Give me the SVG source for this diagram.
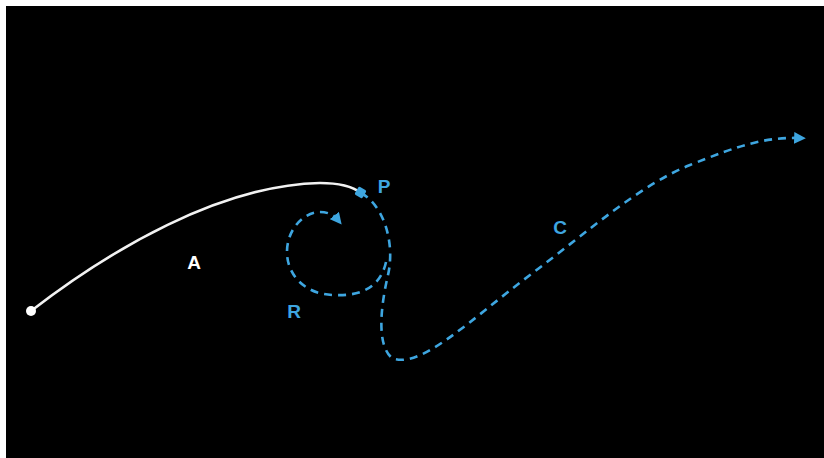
<svg xmlns="http://www.w3.org/2000/svg" width="824" height="458" viewBox="0 0 824 458">
<defs>
<style>
.lbl{font-family:"Liberation Sans",Arial,sans-serif;font-weight:bold;font-size:19px;text-anchor:middle}
.blue{fill:#3ea6e0}
.dash{fill:none;stroke:#3ea6e0;stroke-width:2.6;stroke-dasharray:8 6}
</style>
<marker id="arr" viewBox="0 0 10 10" refX="5" refY="5" markerWidth="4.5" markerHeight="4.5" orient="auto" markerUnits="strokeWidth">
<path d="M0,0 L10,5 L0,10 Z" fill="#3ea6e0"/>
</marker>
</defs>
<rect x="0" y="0" width="824" height="458" fill="#ffffff"/>
<rect x="6" y="6" width="818" height="452" fill="#000000"/>
<g id="connectors">
<path id="curveA" d="M31,311 C110,250 220,185 320,183 C340,183 352,186 361,193" fill="none" stroke="#f2f2f2" stroke-width="2.6"/>
<path id="curveC" class="dash" d="M361,193 C385,206 395,245 388,275 C381,305 376,345 392,358 C420,370 470,320 530,275 S640,185 690,165 S765,137 800,138" marker-end="url(#arr)"/>
<path id="curveR" class="dash" d="M386,262 C380,290 357,296 335,295 C305,295 287,275 287,252 C287,228 305,212 320,212 C328,212 334,215 338,220" marker-end="url(#arr)"/>
</g>
<g id="start">
<circle cx="31" cy="311" r="5" fill="#ffffff"/>
</g>
<g id="P">
<rect x="356" y="188" width="9" height="9" rx="1.5" class="blue" transform="rotate(30 360.5 192.5)"/>
<text class="lbl blue" x="384" y="193">P</text>
</g>
<g id="A">
<text class="lbl" x="194" y="269" fill="#ffffff">A</text>
</g>
<g id="R">
<text class="lbl blue" x="294" y="318">R</text>
</g>
<g id="C">
<text class="lbl blue" x="560" y="234">C</text>
</g>
</svg>
